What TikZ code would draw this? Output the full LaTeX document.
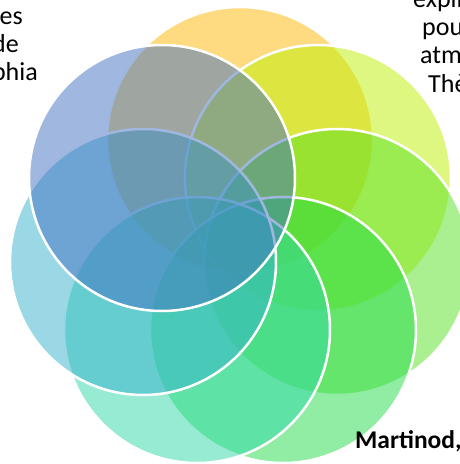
\documentclass[tikz,border=0pt]{standalone}
\usepackage{fontspec}
\setmainfont{Carlito}
\usepackage{xcolor}
\usepackage{tikz}

\definecolor{petalGold}{RGB}{253,181,1}
\definecolor{petalLime}{RGB}{189,240,1}
\definecolor{petalGrass}{RGB}{87,225,33}
\definecolor{petalGreen}{RGB}{33,219,71}
\definecolor{petalMint}{RGB}{49,215,167}
\definecolor{petalSky}{RGB}{53,177,203}
\definecolor{petalBlue}{RGB}{65,113,193}

\begin{document}
\begin{tikzpicture}[x=1pt, y=-1pt,
    petal/.style={circle, minimum size=266pt, inner sep=0pt, draw=white, line width=2.5pt, fill opacity=0.5},
    txt/.style={inner sep=0pt, font=\fontsize{26}{29}\selectfont}]
    \useasboundingbox (0,0) rectangle (460,464);

    % seven petals, clockwise from the top
    \node (gold)  [petal, fill=petalGold]  at (240,140) {};
    \node (lime)  [petal, fill=petalLime]  at (318,178) {};
    \node (grass) [petal, fill=petalGrass] at (337,262) {};
    \node (green) [petal, fill=petalGreen] at (283,330) {};
    \node (mint)  [petal, fill=petalMint]  at (197,330) {};
    \node (sky)   [petal, fill=petalSky]   at (143,262) {};
    \node (blue)  [petal, fill=petalBlue]  at (162,178) {};

    % text cut by the page edge
    \node (es)   at (23,24) [txt, anchor=base east] {es};
    \node (de)   at (19,52) [txt, anchor=base east] {de};
    \node (phia) at (38,80) [txt, anchor=base east] {phia};

    \node (expli) at (413,7)  [txt, anchor=base west] {expli};
    \node (pou)   at (422,35) [txt, anchor=base west] {pou};
    \node (atm)   at (420,63) [txt, anchor=base west] {atm};
    \node (the)   at (428,92) [txt, anchor=base west] {Thè};

    \node (martinod) at (355,448) [txt, anchor=base west, font=\fontsize{25.5}{29}\selectfont\bfseries] {Martinod,};
\end{tikzpicture}
\end{document}
